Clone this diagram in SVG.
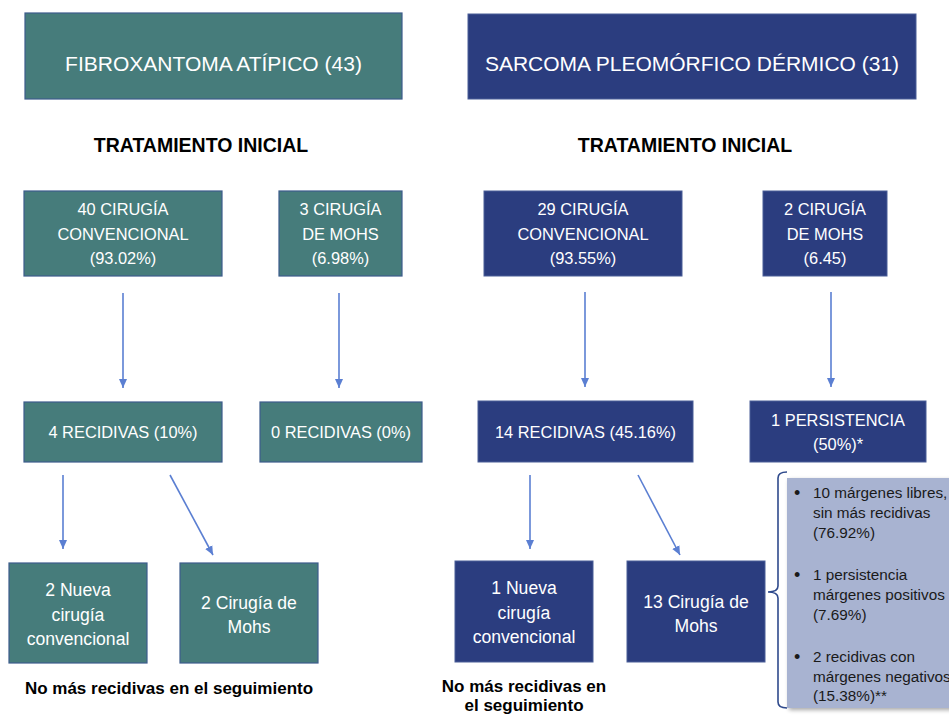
<svg xmlns="http://www.w3.org/2000/svg" width="949" height="716" viewBox="0 0 949 716">
<defs>
<marker id="ah" markerWidth="10" markerHeight="10" refX="9" refY="5" orient="auto" markerUnits="userSpaceOnUse">
<path d="M0,1 L9,5 L0,9 Z" fill="#5B7FD2"/>
</marker>
<filter id="sh" x="-10%" y="-10%" width="130%" height="130%">
<feGaussianBlur in="SourceAlpha" stdDeviation="2"/>
<feOffset dx="2" dy="2"/>
<feComponentTransfer><feFuncA type="linear" slope="0.35"/></feComponentTransfer>
<feMerge><feMergeNode/><feMergeNode in="SourceGraphic"/></feMerge>
</filter>
<style>
.teal{fill:#467C7B;stroke:#3C5C8C;stroke-width:1.2}
.navy{fill:#2B3D7F;stroke:#4A5E98;stroke-width:1}
text{font-family:"Liberation Sans",Arial,sans-serif}
.t{fill:#fff;text-anchor:middle}
.title{font-size:21px}
.cap{font-size:16.4px}
.low{font-size:17.6px}
.hd{font-size:19.5px;font-weight:bold;fill:#000;text-anchor:middle}
.note{font-size:17px;font-weight:bold;fill:#000;text-anchor:middle}
.li{font-size:15.3px;fill:#1a1a1a}
.bul{font-size:18px;fill:#1a1a1a}
.con{stroke:#5B7FD2;stroke-width:1.6;fill:none;marker-end:url(#ah)}
</style>
</defs>
<rect width="949" height="716" fill="#fff"/>

<g id="title-fibro"><rect class="teal" x="25" y="13" width="377" height="86"/><text class="t title" x="213.5" y="71">FIBROXANTOMA ATÍPICO (43)</text></g>
<g id="title-sarcoma"><rect class="navy" x="468" y="14" width="448" height="85"/><text class="t title" x="692" y="71">SARCOMA PLEOMÓRFICO DÉRMICO (31)</text></g>

<g id="hdr-left"><text class="hd" x="201" y="152">TRATAMIENTO INICIAL</text></g>
<g id="hdr-right"><text class="hd" x="685" y="152">TRATAMIENTO INICIAL</text></g>

<g id="f-conv"><rect class="teal" x="24" y="191" width="198" height="85"/>
<text class="t cap" x="123" y="215">40 CIRUGÍA</text><text class="t cap" x="123" y="240">CONVENCIONAL</text><text class="t cap" x="123" y="264">(93.02%)</text></g>
<g id="f-mohs"><rect class="teal" x="279" y="191" width="123" height="85"/>
<text class="t cap" x="340.5" y="215">3 CIRUGÍA</text><text class="t cap" x="340.5" y="240">DE MOHS</text><text class="t cap" x="340.5" y="264">(6.98%)</text></g>
<g id="s-conv"><rect class="navy" x="484" y="191" width="198" height="85"/>
<text class="t cap" x="583" y="215">29 CIRUGÍA</text><text class="t cap" x="583" y="240">CONVENCIONAL</text><text class="t cap" x="583" y="264">(93.55%)</text></g>
<g id="s-mohs"><rect class="navy" x="763" y="191" width="124" height="85"/>
<text class="t cap" x="825" y="215">2 CIRUGÍA</text><text class="t cap" x="825" y="240">DE MOHS</text><text class="t cap" x="825" y="264">(6.45)</text></g>

<g id="f-rec4"><rect class="teal" x="24" y="402" width="198" height="60"/><text class="t cap" x="123" y="438">4 RECIDIVAS (10%)</text></g>
<g id="f-rec0"><rect class="teal" x="260" y="402" width="162" height="60"/><text class="t cap" x="341" y="438">0 RECIDIVAS (0%)</text></g>
<g id="s-rec14"><rect class="navy" x="478" y="401" width="215" height="61"/><text class="t cap" x="585.5" y="438">14 RECIDIVAS (45.16%)</text></g>
<g id="s-pers"><rect class="navy" x="750" y="401" width="176" height="61"/><text class="t cap" x="838" y="426">1 PERSISTENCIA</text><text class="t cap" x="838" y="450">(50%)*</text></g>

<g id="f-nueva"><rect class="teal" x="9" y="563" width="138" height="100"/>
<text class="t low" x="78" y="596">2 Nueva</text><text class="t low" x="78" y="620.5">cirugía</text><text class="t low" x="78" y="645">convencional</text></g>
<g id="f-mohs2"><rect class="teal" x="180" y="563" width="138" height="100"/>
<text class="t low" x="249" y="609">2 Cirugía de</text><text class="t low" x="249" y="633">Mohs</text></g>
<g id="s-nueva"><rect class="navy" x="455" y="561" width="138" height="101"/>
<text class="t low" x="524" y="594">1 Nueva</text><text class="t low" x="524" y="618.5">cirugía</text><text class="t low" x="524" y="643">convencional</text></g>
<g id="s-mohs2"><rect class="navy" x="627" y="561" width="138" height="101"/>
<text class="t low" x="696" y="608">13 Cirugía de</text><text class="t low" x="696" y="632">Mohs</text></g>

<g id="note-left"><text class="note" x="169" y="694">No más recidivas en el seguimiento</text></g>
<g id="note-right"><text class="note" x="524" y="692">No más recidivas en</text><text class="note" x="524" y="711">el seguimiento</text></g>

<g id="outcomes">
<rect x="787" y="478" width="175" height="230" fill="#A8B3D1" filter="url(#sh)"/>
<path d="M787,472 Q778,472 778,478 L778,586 Q778,592 768,592 Q778,592 778,598 L778,702 Q778,708 787,708" fill="none" stroke="#2F4A8C" stroke-width="1.6"/>
<g class="li">
<text class="bul" x="794" y="499">•</text><text x="813" y="498">10 márgenes libres,</text>
<text x="813" y="518">sin más recidivas</text>
<text x="813" y="538">(76.92%)</text>
<text class="bul" x="794" y="581">•</text><text x="813" y="580">1 persistencia</text>
<text x="813" y="600">márgenes positivos</text>
<text x="813" y="620">(7.69%)</text>
<text class="bul" x="794" y="663">•</text><text x="813" y="662">2 recidivas con</text>
<text x="813" y="682">márgenes negativos</text>
<text x="813" y="701">(15.38%)**</text>
</g>
</g>

<g id="connectors">
<line class="con" x1="123" y1="293" x2="123" y2="388"/>
<line class="con" x1="339" y1="293" x2="339" y2="388"/>
<line class="con" x1="585" y1="292" x2="585" y2="387"/>
<line class="con" x1="831" y1="292" x2="831" y2="387"/>
<line class="con" x1="63" y1="475" x2="63" y2="549"/>
<line class="con" x1="170" y1="475" x2="213" y2="555"/>
<line class="con" x1="530" y1="475" x2="530" y2="549"/>
<line class="con" x1="638" y1="475" x2="680" y2="555"/>
</g>
</svg>
